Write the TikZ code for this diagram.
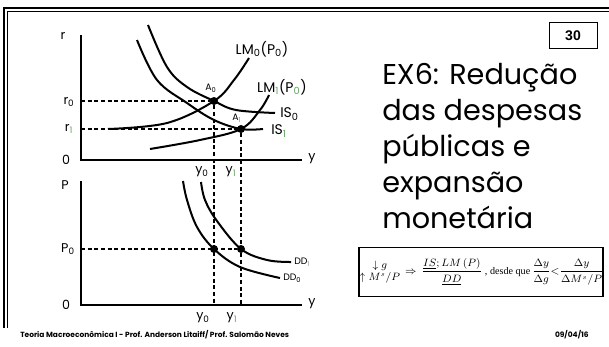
\documentclass[tikz,border=0pt]{standalone}
\usepackage{amsmath}
\usepackage{fontspec}
\setmainfont{Liberation Serif}
\newfontfamily\gothic{Poppins}
\newfontfamily\arialf{Liberation Sans}
\definecolor{subgreen}{RGB}{100,165,95}
\definecolor{shade}{RGB}{150,150,150}
\newcommand\gsub[1]{\textsubscript{\textcolor{subgreen}{#1}}}
\begin{document}
\begin{tikzpicture}[x=0.75pt,y=-0.75pt,
  axis/.style={line width=1.5pt},
  curve/.style={line width=1.5pt},
  dline/.style={dash pattern=on 3pt off 2pt, line width=0.8pt},
  lbl/.style={font=\gothic\fontsize{9.5}{11}\selectfont, inner sep=0},
  biglbl/.style={font=\gothic\fontsize{10.5}{12}\selectfont, inner sep=0},
  smalllbl/.style={font=\gothic\fontsize{7}{8}\selectfont, inner sep=0},
  dot/.style={circle, fill, inner sep=0, minimum size=6pt}]
\useasboundingbox (0,0) rectangle (609,346);
% frame
\draw[shade, line width=0.6pt] (7,11) -- (609,11);
\draw[shade, line width=0.6pt] (7,11) -- (7,328);
\draw[line width=2.2pt] (4,8) -- (609,8);
\draw[line width=2.2pt] (4,7) -- (4,328);

% top graph
\coordinate (o1) at (81,160);
\coordinate (rtop) at (81,35);
\coordinate (yend1) at (302,160);
\draw[axis] (rtop) -- (o1) -- (yend1);
\node[dot] (A0) at (214,101) {};
\node[dot] (A1) at (241,129) {};
\coordinate (r0ax) at (81,101);
\coordinate (r1ax) at (81,129);
\draw[curve] plot[smooth, tension=0.6] coordinates {(108,129) (167,123) (214,101) (234,80) (249,58)};
\draw[curve] plot[smooth, tension=0.6] coordinates {(150,149) (200,140) (241,129) (260,110) (269,95)};
\draw[curve] plot[smooth, tension=0.6] coordinates {(148,25) (167,67) (187,87) (214,101) (236,110) (275,113)};
\draw[curve] plot[smooth, tension=0.6] coordinates {(137,40) (157,80) (187,103) (214,120) (241,129) (263,129)};
\draw[dline] (r0ax) -- (A0);
\draw[dline] (r1ax) -- (A1);

\node[lbl] (rl) at (63,36) {r};
\node[lbl] (r0l) at (69,102) {r\textsubscript{0}};
\node[lbl] (r1l) at (69,129) {r\gsub{1}};
\node[lbl] (zero1) at (66,160) {0};
\node[lbl] (yl1) at (312,159) {y};
\node[lbl] (y0t) at (202,172) {y\textsubscript{0}};
\node[lbl] (y1t) at (231,172) {y\gsub{1}};
\node[smalllbl] (A0l) at (211,88) {A\textsubscript{0}};
\node[smalllbl] (A1l) at (237,118) {A\gsub{1}};
\node[biglbl] (lm0) at (262,49) {LM\textsubscript{0}(P\textsubscript{0})};
\node[biglbl] (lm1) at (282,87) {LM\gsub{1}(P\gsub{0})};
\node[biglbl, anchor=west] (is0) at (280,114) {IS\textsubscript{0}};
\node[biglbl, anchor=west] (is1) at (271,131) {IS\gsub{1}};

% bottom graph
\coordinate (o2) at (81,305);
\coordinate (ptop) at (81,181);
\coordinate (yend2) at (302,305);
\draw[axis] (ptop) -- (o2) -- (yend2);
\node[dot] (B0) at (214,249) {};
\node[dot] (B1) at (241,249) {};
\coordinate (p0ax) at (81,249);
\coordinate (y0ax) at (214,305);
\coordinate (y1ax) at (241,305);
\draw[curve] plot[smooth, tension=0.6] coordinates {(183,181) (187,200) (197,227) (214,249) (240,267) (280,278)};
\draw[curve] plot[smooth, tension=0.6] coordinates {(201,182) (205,200) (217,221) (241,249) (267,260) (291,262)};
\draw[dline] (p0ax) -- (B1);
\draw[dline] (A0) -- (y0ax);
\draw[dline] (A1) -- (y1ax);

\node[lbl] (Pl) at (65,185) {P};
\node[lbl] (P0l) at (68,249) {P\textsubscript{0}};
\node[lbl] (zero2) at (66,305) {0};
\node[lbl] (yl2) at (312,304) {y};
\node[lbl] (y0b) at (203,318) {y\textsubscript{0}};
\node[lbl] (y1b) at (232,318) {y\gsub{1}};
\node[smalllbl, anchor=west] (dd1) at (294,262) {DD\textsubscript{\textcolor{shade}{1}}};
\node[smalllbl, anchor=west] (dd0) at (283,278) {DD\textsubscript{0}};

% number box
\node[draw, line width=0.6pt, minimum width=36pt, minimum height=20pt, inner sep=0,
  font=\arialf\bfseries\fontsize{10.5}{12}\selectfont] (num) at (573,35.5) {30};

% title
\node[anchor=north west, align=left, inner sep=0,
  font=\gothic\fontsize{21.5}{27}\selectfont] (title) at (382,63)
  {EX6: Redução\\das despesas\\públicas e\\expansão\\monetária};

% formula box
\node[draw, line width=1.1pt, minimum width=183pt, minimum height=37pt, inner sep=0] (fbox) at (481,272) {};
\node[anchor=center, inner sep=0, font=\fontsize{7.6}{9}\selectfont] (formula) at ([xshift=0.5pt]fbox.center)
  {$\begin{array}{@{}c@{}}\downarrow g\\ \uparrow M^{s}/P\end{array}\,\Rightarrow\,
   \dfrac{\underline{IS};LM\,(P)}{\underline{DD}}$\;, desde que\,%
   $\dfrac{\Delta y}{\Delta g}{<}\dfrac{\Delta y}{\Delta M^{s}/P}$};

% footer
\node[anchor=west, inner sep=0, font=\gothic\bfseries\fontsize{5.6}{6}\selectfont] (foot) at (20,335)
  {Teoria Macroeconômica I - Prof. Anderson Litaiff/ Prof. Salomão Neves};
\node[anchor=east, inner sep=0, font=\gothic\bfseries\fontsize{5.6}{6}\selectfont] (date) at (589,335)
  {09/04/16};
\end{tikzpicture}
\end{document}
